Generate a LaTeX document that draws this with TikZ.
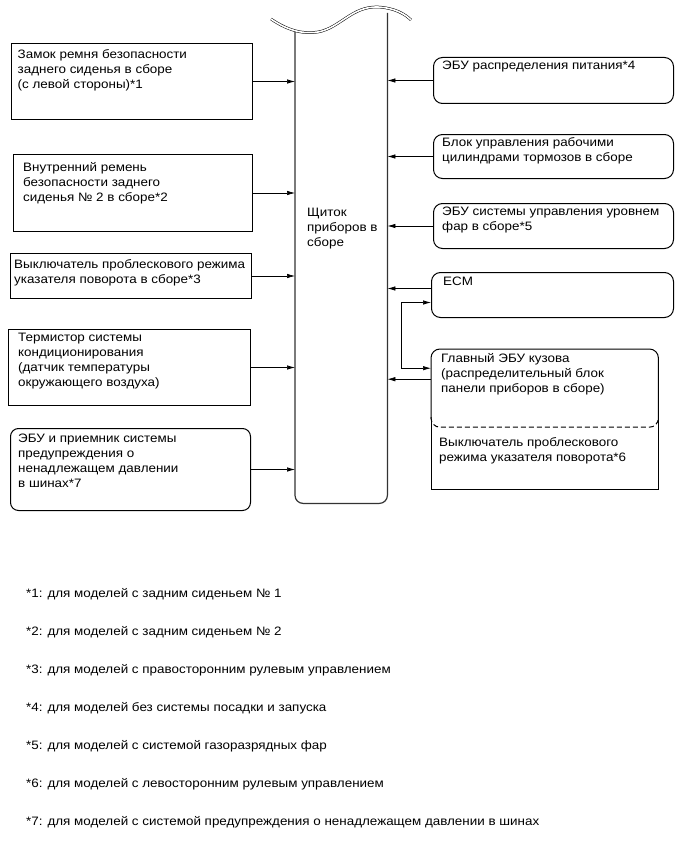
\documentclass[tikz,border=0pt]{standalone}
\usepackage{fontspec}
\setmainfont[FakeStretch=1.1]{Liberation Sans}
\usetikzlibrary{arrows.meta}

\begin{document}
\begin{tikzpicture}[x=1pt, y=-1pt, font=\fontsize{12.2}{15}\selectfont,
  >={Latex[length=8pt,width=4.5pt]},
  sbox/.style={draw,line width=1pt,inner sep=0pt,anchor=north west},
  rbox/.style={sbox,rounded corners=9pt},
  txt/.style={anchor=north west,align=left,inner sep=0pt},
  bline/.style={line width=1pt},
  wire/.style={->,line width=0.7pt}]
\useasboundingbox (0,0) rectangle (686,856);
% instrument panel
\node[inner sep=0pt,minimum width=92pt,minimum height=490pt,anchor=north west] (panel) at (295,13) {};
\draw[line width=1.2pt,black!80,rounded corners=8pt] (panel.west |- 0,31) -- (panel.south west) -- (panel.south east) -- (panel.north east);
\draw[line width=0.5pt,double distance=1.6pt] (271,19) .. controls (290,32) and (305,34) .. (318,32)
  .. controls (340,28) and (352,6) .. (378,7) .. controls (395,8) and (405,14) .. (411,20);
\node[txt] (pt) at (307,208) {Щиток\\приборов в\\сборе};
% left side
\node[sbox,minimum width=241pt,minimum height=76pt] (l1) at (10.5,43) {};
\node[txt] (lt1) at ([shift={(7,6)}]l1.north west) {Замок ремня безопасности\\заднего сиденья в сборе\\(с левой стороны)*1};
\node[sbox,minimum width=239pt,minimum height=77pt] (l2) at (13,154) {};
\node[txt] (lt2) at ([shift={(10,8)}]l2.north west) {Внутренний ремень\\безопасности заднего\\сиденья № 2 в сборе*2};
\node[sbox,minimum width=241pt,minimum height=45pt] (l3) at (10,253) {};
\node[txt] (lt3) at ([shift={(4,6)}]l3.north west) {Выключатель проблескового режима\\указателя поворота в сборе*3};
\node[sbox,minimum width=242pt,minimum height=76pt] (l4) at (8,329) {};
\node[txt] (lt4) at ([shift={(10,4)}]l4.north west) {Термистор системы\\кондиционирования\\(датчик температуры\\окружающего воздуха)};
\node[sbox,rounded corners=8pt,minimum width=240pt,minimum height=82pt] (l5) at (10,428) {};
\node[txt] (lt5) at ([shift={(8,6)}]l5.north west) {ЭБУ и приемник системы\\предупреждения о\\ненадлежащем давлении\\в шинах*7};
\draw[wire] (l1.east) -- (l1.east -| panel.west);
\draw[wire] (l2.east) -- (l2.east -| panel.west);
\draw[wire] (l3.east) -- (l3.east -| panel.west);
\draw[wire] (l4.east) -- (l4.east -| panel.west);
\draw[wire] (l5.east) -- (l5.east -| panel.west);
% right side
\node[rbox,minimum width=240pt,minimum height=46pt] (r1) at (433,57) {};
\node[txt] (rt1) at ([shift={(9,4)}]r1.north west) {ЭБУ распределения питания*4};
\node[rbox,minimum width=240pt,minimum height=44pt] (r2) at (433,134) {};
\node[txt] (rt2) at ([shift={(9,3)}]r2.north west) {Блок управления рабочими\\цилиндрами тормозов в сборе};
\node[rbox,minimum width=240pt,minimum height=45pt] (r3) at (433,203) {};
\node[txt] (rt3) at ([shift={(9,4)}]r3.north west) {ЭБУ системы управления уровнем\\фар в сборе*5};
\node[rbox,minimum width=242pt,minimum height=45pt] (ecm) at (431,272) {};
\node[txt] (et) at ([shift={(12,5)}]ecm.north west) {ECM};
\draw[wire] (r1.west) -- (r1.west -| panel.east);
\draw[wire] (r2.west) -- (r2.west -| panel.east);
\draw[wire] (r3.west) -- (r3.west -| panel.east);
\draw[wire] ([yshift=6.5pt]ecm.west) -- ([yshift=6.5pt]ecm.west -| panel.east);
% main body ECU with turn signal switch
\node[inner sep=0pt,minimum width=227pt,minimum height=140pt,anchor=north west] (gl) at (431,349) {};
\draw[bline,rounded corners=9pt] (gl.west) -- (gl.north west) -- (gl.north east) -- (gl.east);
\draw[bline,dash pattern=on 5pt off 3pt,rounded corners=9pt] ([yshift=2pt]gl.west) -- ([yshift=-8pt]gl.west)
  -- ([yshift=-8pt]gl.east) -- ([yshift=2pt]gl.east);
\draw[bline] (gl.west) -- (gl.south west) -- (gl.south east) -- (gl.east);
\node[txt] (gt1) at ([shift={(10,4)}]gl.north west) {Главный ЭБУ кузова\\(распределительный блок\\панели приборов в сборе)};
\node[txt] (gt2) at ([shift={(8,88)}]gl.north west) {Выключатель проблескового\\режима указателя поворота*6};
\draw[wire] ([yshift=40pt]gl.west) -- ([yshift=40pt]gl.west -| panel.east);
\draw[wire,<->] ([yshift=-7.5pt]ecm.west) -| ([xshift=-30pt,yshift=51pt]gl.west) -- ([yshift=51pt]gl.west);
% footnotes
\node[txt] (f1) at (26,588) {*1: для моделей с задним сиденьем № 1};
\node[txt] (f2) at (26,626) {*2: для моделей с задним сиденьем № 2};
\node[txt] (f3) at (26,664) {*3: для моделей с правосторонним рулевым управлением};
\node[txt] (f4) at (26,702) {*4: для моделей без системы посадки и запуска};
\node[txt] (f5) at (26,740) {*5: для моделей с системой газоразрядных фар};
\node[txt] (f6) at (26,778) {*6: для моделей с левосторонним рулевым управлением};
\node[txt] (f7) at (26,816) {*7: для моделей с системой предупреждения о ненадлежащем давлении в шинах};
\end{tikzpicture}
\end{document}
